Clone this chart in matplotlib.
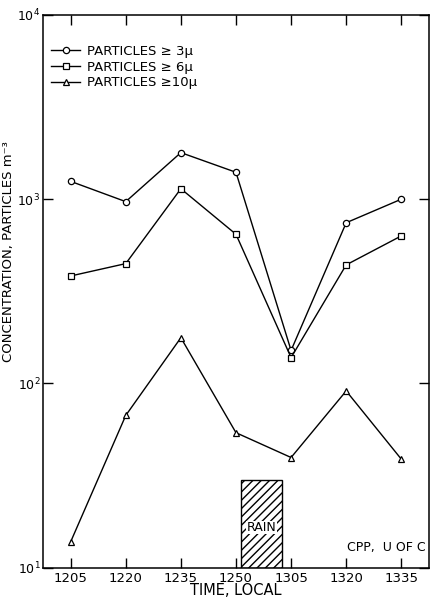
import matplotlib
matplotlib.use('Agg')
import matplotlib.pyplot as plt
from matplotlib.patches import Rectangle

# Data
times = ['1205', '1220', '1235', '1250', '1305', '1320', '1335']
p3 = [1250, 970, 1790, 1400, 151, 745, 1000]
p6 = [383, 447, 1140, 645, 138, 440, 632]
p10 = [13.8, 67, 177, 54, 39.6, 91, 38.8]

# rain period (in x index units) and bar height
rain_x = (3.10, 3.83)
rain_top = 30

plt.rcParams['font.family'] = 'DejaVu Sans'

fig = plt.figure(figsize=(4.31, 6.0), dpi=100)
ax = fig.add_axes([0.100, 0.054, 0.895, 0.921])

x = range(len(times))
mk = dict(color='black', lw=1.0, mfc='white', mec='black', mew=0.9, ms=4.5)
ax.plot(x, p3, marker='o', label='PARTICLES \u2265 3\u03bc', **mk)
ax.plot(x, p6, marker='s', label='PARTICLES \u2265 6\u03bc', **mk)
ax.plot(x, p10, marker='^', label='PARTICLES \u226510\u03bc', **mk)

# rain bar
ax.add_patch(Rectangle((rain_x[0], 10), rain_x[1] - rain_x[0], rain_top - 10,
                       fill=False, hatch='////', edgecolor='black', lw=1.0))
ax.text(sum(rain_x) / 2, 16.5, 'RAIN', ha='center', va='center', fontsize=9,
        bbox=dict(facecolor='white', edgecolor='none', pad=0.3))
ax.text(6.45, 11.8, 'CPP,  U OF C', ha='right', va='bottom', fontsize=9)

ax.set_yscale('log')
ax.set_ylim(10, 1e4)
ax.set_xlim(-0.5, 6.5)
ax.set_xticks(list(x))
ax.set_xticklabels(times)
ax.minorticks_off()
ax.tick_params(direction='in', length=7, width=1, labelsize=9.5,
               top=True, right=True, pad=3)
ax.tick_params(axis='y', pad=2, labelsize=9)
for s in ax.spines.values():
    s.set_linewidth(1.1)

ax.set_xlabel('TIME, LOCAL', fontsize=10.5, labelpad=-1)
fig.text(0.004, 0.58, 'CONCENTRATION, PARTICLES m\u207b\u00b3', rotation=90,
         ha='left', va='center', fontsize=9.5)

ax.legend(loc='upper left', frameon=False, fontsize=9.5, handlelength=2.2,
          handletextpad=0.5, labelspacing=0.2, borderaxespad=0.2,
          bbox_to_anchor=(0.0, 0.96))

fig.savefig('out.png', dpi=100)
plt.close(fig)
